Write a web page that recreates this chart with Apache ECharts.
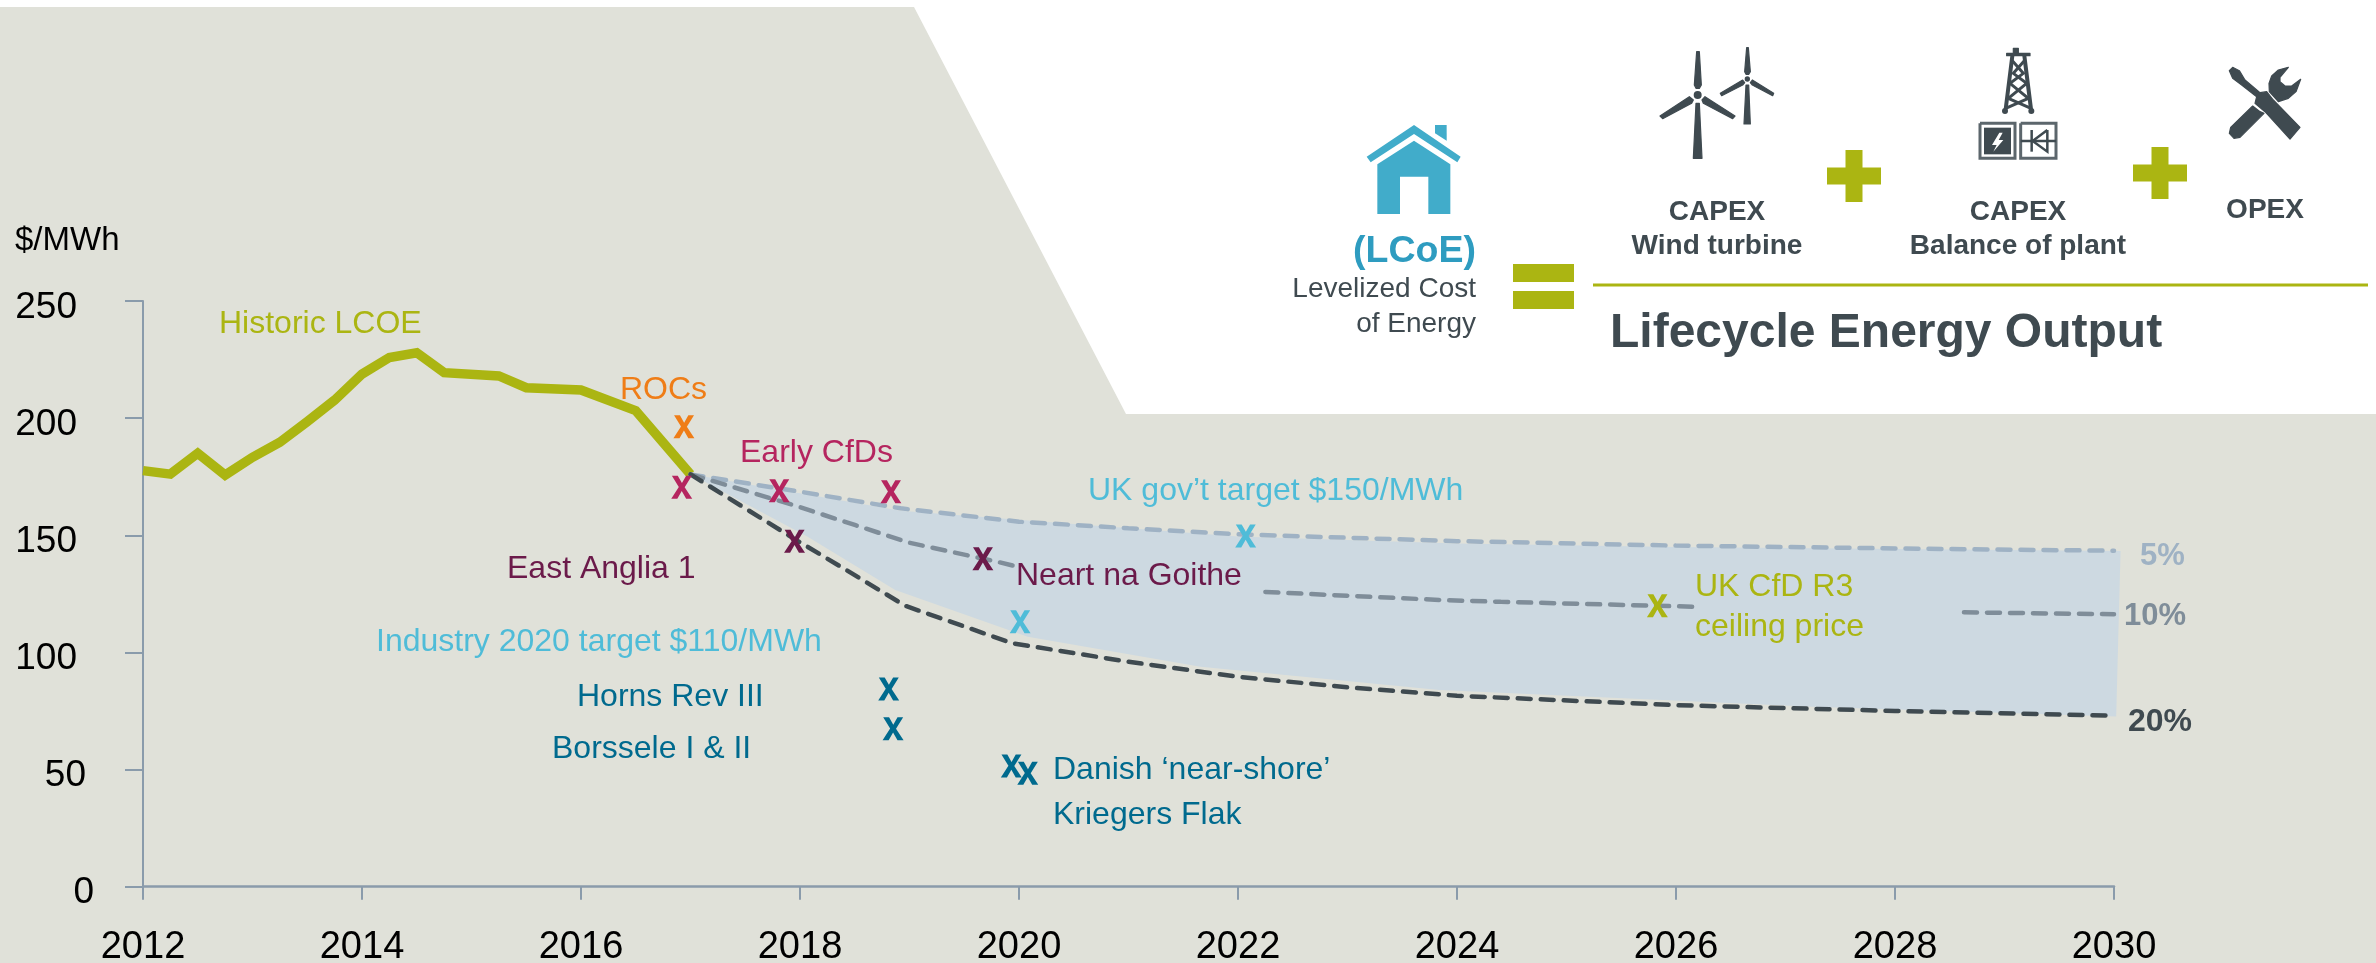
<!DOCTYPE html>
<html lang="en">

<head>
    <meta charset="UTF-8">
    <title>Levelized cost of energy</title>
    <style>
        body {
            margin: 0px;
            padding: 0px;
            background: #ffffff;
        }

        #lcoe {
            width: 2376px;
            height: 963px;
        }
    </style>
</head>

<body>
    <div id="lcoe"></div>
    <script src="https://cdn.jsdelivr.net/npm/echarts@6/dist/echarts.min.js"></script>
    <script>
        // values, x = year, y = $/MWh
        var yearTicks = [2012, 2030, 2];
        var valueTicks = [0, 250, 50];

        var historicYears = [2012, 2012.25, 2012.5, 2012.75, 2013, 2013.25, 2013.5, 2013.75, 2014, 2014.25, 2014.5, 2014.75, 2015.25, 2015.5, 2016, 2016.5, 2017];
        var historicValues = [177.6, 176.1, 185, 175.7, 183.3, 189.7, 198.5, 207.7, 218.8, 225.9, 227.9, 219.4, 218, 213, 212, 203.2, 176];

        var p5Years = [2017, 2018, 2018.92, 2020, 2021, 2022, 2024, 2026, 2028, 2030];
        var p5Values = [176, 168.6, 161.5, 155.8, 153, 150.4, 147.5, 145.6, 144.4, 143.4];

        // null = the line is hidden behind a label there
        var p10Years = [2017, 2017.94, 2018.5, 2019, 2019.8, 2019.96, 2021, 2022.25, 2023.84, 2024.4, 2026.16, 2027, 2028.63, 2030];
        var p10Values = [176, 162.9, 154.4, 146.8, 138.7, 136.9, null, 125.8, 122.4, 121.6, 119.5, null, 117.1, 116.3];

        var p20Years = [2017, 2017.94, 2018.5, 2018.96, 2019.94, 2021, 2022, 2023, 2024, 2026, 2028, 2030];
        var p20Values = [176, 148.7, 133, 119.9, 103.9, 96, 89.6, 85.1, 81.5, 77.5, 75, 73];

        var bandUpper = [[2017, 176], [2018.92, 160.5], [2022, 149.5], [2024, 146.5], [2026, 145], [2030.06, 143.3]];
        var bandLower = [[2017, 176], [2018.07, 149.4], [2018.87, 126.6], [2020.08, 106.7], [2021.66, 93.9], [2023.84, 84], [2027.25, 76.8], [2030.02, 72.6]];

        var rocs = [[2016.94, 196.3]];
        var earlyCfds = [[2016.92, 170.5], [2017.81, 169], [2018.83, 168.6]];
        var eastAnglia = [[2017.95, 147.4], [2019.67, 140]];
        var targets = [[2022.07, 149.7], [2020.01, 113.1]];
        var auctions = [[2018.81, 84.4], [2018.85, 67.4], [2019.93, 51.5], [2020.08, 48.4]];
        var ukCfdR3 = [[2025.83, 119.9]];

        var olive = '#abb512';
        var slate = '#3f4a50';
        var houseBlue = '#41acca';
        var axisColor = '#8a9bab';
        var sand = '#e0e1d9';
        var FONT = '"Liberation Sans", Arial, sans-serif';
        var X_GLYPH = 'path://M0 100L36 49L3 0H31L51 32L71 0H98L64 50L100 100H71L50 66L29 100Z';

        var bandPoints = bandUpper.concat(bandLower.slice().reverse());

        function zip(xs, ys) {
            return xs.map(function (x, i) {
                return [x, ys[i] === null ? '-' : ys[i]];
            });
        }

        function dashed(name, years, values, color) {
            return {
                name: name,
                type: 'line',
                data: zip(years, values),
                symbol: 'none',
                connectNulls: false,
                clip: false,
                lineStyle: { color: color, width: 4.5, type: [13, 10], cap: 'round' }
            };
        }

        function crosses(name, points, color) {
            return {
                name: name,
                type: 'scatter',
                data: points,
                symbol: X_GLYPH,
                symbolSize: [21, 23],
                itemStyle: { color: color, opacity: 1 },
                z: 5
            };
        }

        function note(text, x, y, color, size, bold, align) {
            return {
                type: 'text',
                x: x,
                y: y + 3,
                z: 20,
                style: {
                    text: text,
                    fill: color,
                    fontFamily: FONT,
                    fontSize: size,
                    fontWeight: bold ? 'bold' : 'normal',
                    textAlign: align || 'left',
                    textVerticalAlign: 'middle'
                }
            };
        }

        // icon outlines are in 3x zoom pixels, ox / oy is the icon's corner on the page
        function poly(pts, ox, oy, color, heavy) {
            return {
                type: 'polygon',
                z: 20,
                shape: { points: pts.map(function (p) { return [ox + p[0] / 3, oy + p[1] / 3]; }) },
                style: { fill: color, stroke: heavy ? color : null, lineWidth: heavy ? 1.2 : 0, lineJoin: 'round' }
            };
        }

        function wire(pts, ox, oy, color, w) {
            return {
                type: 'polyline',
                z: 20,
                shape: { points: pts.map(function (p) { return [ox + p[0] / 3, oy + p[1] / 3]; }) },
                style: { stroke: color, lineWidth: w, fill: null }
            };
        }

        function dot(cx, cy, r, ox, oy, color) {
            return {
                type: 'circle',
                z: 20,
                shape: { cx: ox + cx / 3, cy: oy + cy / 3, r: r / 3 },
                style: { fill: color }
            };
        }

        function box(x, y, w, h, color) {
            return { type: 'rect', z: 20, shape: { x: x, y: y, width: w, height: h }, style: { fill: color } };
        }

        function plus(cx, cy) {
            return [box(cx - 27, cy - 8.5, 54, 17, olive), box(cx - 8.5, cy - 26, 17, 52, olive)];
        }

        function houseIcon() {
            var ox = 1340, oy = 110;
            return [
                poly([[222, 45], [362, 140], [352, 157], [222, 72], [92, 157], [80, 140]], ox, oy, houseBlue),
                poly([[285, 45], [320, 45], [320, 92], [285, 70]], ox, oy, houseBlue),
                poly([[222, 92], [331, 163], [331, 312], [265, 312], [265, 200], [180, 200], [180, 312], [112, 312], [112, 163]], ox, oy, houseBlue)
            ];
        }

        function turbineIcon() {
            var ox = 1640, oy = 40;
            return [
                dot(173, 165, 12, ox, oy, slate),
                poly([[168, 190], [178, 190], [186, 355], [160, 355]], ox, oy, slate, true),
                poly([[170, 35], [178, 35], [184, 135], [178, 145], [168, 145], [163, 135]], ox, oy, slate, true),
                poly([[148, 170], [160, 180], [155, 190], [68, 236], [60, 228]], ox, oy, slate, true),
                poly([[195, 170], [186, 180], [190, 190], [278, 236], [285, 228]], ox, oy, slate, true),
                dot(322, 117, 8, ox, oy, slate),
                poly([[318, 135], [326, 135], [331, 252], [312, 252]], ox, oy, slate, true),
                poly([[320, 23], [325, 23], [331, 95], [326, 103], [318, 103], [314, 95]], ox, oy, slate, true),
                poly([[308, 120], [314, 128], [308, 135], [245, 167], [241, 160]], ox, oy, slate, true),
                poly([[337, 120], [331, 128], [337, 135], [398, 167], [401, 160]], ox, oy, slate, true)
            ];
        }

        function towerIcon() {
            var ox = 1960, oy = 40;
            return [
                poly([[160, 25], [175, 25], [175, 40], [210, 40], [210, 47], [140, 47], [140, 40], [160, 40]], ox, oy, slate, true),
                wire([[157, 47], [137, 208]], ox, oy, slate, 4),
                wire([[193, 47], [213, 208]], ox, oy, slate, 4),
                wire([[155, 60], [190, 100], [150, 130], [205, 175], [137, 205]], ox, oy, slate, 3),
                wire([[195, 60], [160, 100], [200, 130], [145, 175], [213, 205]], ox, oy, slate, 3),
                dot(135, 213, 9, ox, oy, slate),
                dot(214, 213, 9, ox, oy, slate),
                wire([[60, 250], [165, 250], [165, 355], [60, 355], [60, 250]], ox, oy, '#5c666c', 3),
                poly([[72, 263], [153, 263], [153, 343], [72, 343]], ox, oy, slate),
                poly([[118, 278], [96, 315], [110, 315], [100, 335], [130, 300], [116, 300], [128, 278]], ox, oy, '#ffffff'),
                wire([[182, 250], [288, 250], [288, 355], [182, 355], [182, 250]], ox, oy, '#5c666c', 3),
                wire([[182, 303], [288, 303]], ox, oy, slate, 2.5),
                wire([[215, 270], [215, 335]], ox, oy, slate, 2.5),
                wire([[262, 270], [262, 335], [218, 303], [262, 270]], ox, oy, slate, 2.5)
            ];
        }

        function toolsIcon() {
            var ox = 2210, oy = 50;
            return [
                poly([[58, 62], [68, 52], [88, 62], [105, 90], [150, 128], [170, 125], [190, 150], [270, 232], [240, 267], [165, 185], [135, 160], [140, 140], [95, 105], [68, 85]], ox, oy, slate, true),
                poly([[235, 52], [205, 60], [185, 78], [177, 100], [178, 125], [205, 155], [235, 145], [258, 125], [272, 88], [245, 108], [225, 108], [210, 95], [210, 82]], ox, oy, slate, true),
                poly([[128, 168], [62, 232], [58, 250], [72, 265], [90, 262], [162, 190], [150, 185]], ox, oy, slate, true)
            ];
        }

        var dom = document.getElementById('lcoe');
        var myChart = echarts.init(dom);

        var option = {
            animation: false,
            backgroundColor: '#ffffff',
            grid: { left: 143, right: 262, top: 301, height: 585.7, outerBoundsMode: 'none' },
            xAxis: {
                type: 'value',
                min: yearTicks[0],
                max: yearTicks[1],
                interval: yearTicks[2],
                splitLine: { show: false },
                axisLine: { lineStyle: { color: axisColor, width: 2.5 } },
                axisTick: { length: 13, lineStyle: { color: axisColor, width: 2 } },
                axisLabel: {
                    margin: 42,
                    color: '#000000',
                    fontFamily: FONT,
                    fontSize: 38,
                    formatter: function (value) { return String(value); }
                }
            },
            yAxis: {
                type: 'value',
                min: valueTicks[0],
                max: valueTicks[1],
                interval: valueTicks[2],
                splitLine: { show: false },
                axisLine: { show: true, lineStyle: { color: axisColor, width: 2 } },
                axisTick: { show: true, length: 18, lineStyle: { color: axisColor, width: 2 } },
                axisLabel: {
                    margin: 49,
                    align: 'right',
                    formatter: function (value) {
                        // tick labels do not share a right edge in the original
                        if (value === 0) return '{a|0}';
                        if (value === 50) return '{b|50}';
                        return '{c|' + value + '}';
                    },
                    rich: {
                        a: { color: '#000000', fontFamily: FONT, fontSize: 37, padding: [13, 0, 0, 0] },
                        b: { color: '#000000', fontFamily: FONT, fontSize: 37, padding: [13, 8, 0, 0] },
                        c: { color: '#000000', fontFamily: FONT, fontSize: 37, padding: [13, 17, 0, 0] }
                    }
                }
            },
            series: [
                {
                    name: 'band',
                    type: 'custom',
                    data: bandPoints,
                    encode: { x: 0, y: 1 },
                    silent: true,
                    z: 1,
                    renderItem: function (params, api) {
                        if (params.dataIndex !== 0) return null;
                        var pts = bandPoints.map(function (p) { return api.coord(p); });
                        return { type: 'polygon', shape: { points: pts }, style: { fill: '#cdd9e1' } };
                    }
                },
                {
                    name: 'Historic LCOE',
                    type: 'line',
                    data: zip(historicYears, historicValues),
                    symbol: 'none',
                    clip: false,
                    lineStyle: { color: olive, width: 9.5, join: 'miter' }
                },
                dashed('5%', p5Years, p5Values, '#9fb2c4'),
                dashed('10%', p10Years, p10Values, '#7f8d99'),
                dashed('20%', p20Years, p20Values, slate),
                crosses('ROCs', rocs, '#ef7d17'),
                crosses('Early CfDs', earlyCfds, '#b5255f'),
                crosses('East Anglia 1', eastAnglia, '#6b1a4a'),
                crosses('Targets', targets, '#4fbcd8'),
                crosses('Auctions', auctions, '#006a8e'),
                crosses('UK CfD R3', ukCfdR3, olive)
            ],
            graphic: {
                elements: [
                    {
                        type: 'polygon',
                        z: -10,
                        shape: { points: [[0, 7], [914, 7], [1126, 414], [2376, 414], [2376, 963], [0, 963]] },
                        style: { fill: sand }
                    },
                    note('$/MWh', 15, 238, '#000000', 33),
                    note('Historic LCOE', 219, 321, olive, 32),
                    note('ROCs', 620, 387, '#ef7d17', 32),
                    note('Early CfDs', 740, 450, '#b5255f', 32),
                    note('East Anglia 1', 507, 566, '#6b1a4a', 32),
                    note('UK gov\u2019t target $150/MWh', 1088, 488, '#4fbcd8', 32),
                    note('Neart na Goithe', 1016, 573, '#6b1a4a', 32),
                    note('Industry 2020 target $110/MWh', 376, 639, '#4fbcd8', 32),
                    note('Horns Rev III', 577, 694, '#006a8e', 32),
                    note('Borssele I & II', 552, 746, '#006a8e', 32),
                    note('Danish \u2018near-shore\u2019', 1053, 767, '#006a8e', 32),
                    note('Kriegers Flak', 1053, 812, '#006a8e', 32),
                    note('UK CfD R3', 1695, 584, olive, 32),
                    note('ceiling price', 1695, 624, olive, 32),
                    note('5%', 2140, 553, '#9fb2c4', 31, true),
                    note('10%', 2124, 613, '#7f8d99', 31, true),
                    note('20%', 2128, 719, slate, 32, true),

                    note('(LCoE)', 1353, 249, '#2e9cc0', 37.5, true),
                    note('Levelized Cost', 1476, 286, slate, 28, false, 'right'),
                    note('of Energy', 1476, 321, slate, 28, false, 'right'),
                    box(1513, 264, 61, 18, olive),
                    box(1513, 291, 61, 18, olive),
                    box(1593, 283.5, 775, 3, olive),
                    note('Lifecycle Energy Output', 1610, 331, slate, 48, true),
                    note('CAPEX', 1717, 209, slate, 28, true, 'center'),
                    note('Wind turbine', 1717, 243, slate, 28, true, 'center'),
                    note('CAPEX', 2018, 209, slate, 28, true, 'center'),
                    note('Balance of plant', 2018, 243, slate, 28, true, 'center'),
                    note('OPEX', 2265, 207, slate, 28, true, 'center')
                ].concat(plus(1854, 176), plus(2160, 173), houseIcon(), turbineIcon(), towerIcon(), toolsIcon())
            }
        };

        myChart.setOption(option);
    </script>
</body>

</html>
